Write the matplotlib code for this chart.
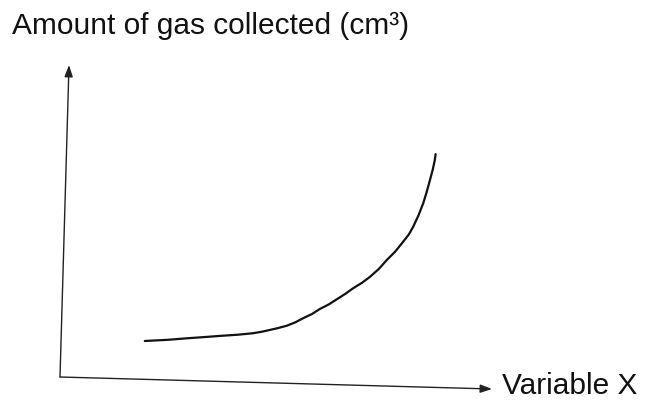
import numpy as np
import matplotlib
matplotlib.use("Agg")
import matplotlib.pyplot as plt

plt.rcParams['font.family'] = ['Liberation Sans', 'DejaVu Sans']

# curve (arbitrary units)
x_vals = [2.12, 2.7, 3.17, 3.6, 4.0, 4.45, 4.83, 5.05, 5.25, 5.45, 5.67,
          5.88, 6.08, 6.3, 6.5, 6.72, 6.92, 7.13, 7.33, 7.55, 7.75, 7.97,
          8.17, 8.38, 8.58, 8.72, 8.83, 8.96, 9.08, 9.17, 9.25, 9.32, 9.37,
          9.39]
y_vals = [1.2, 1.24, 1.29, 1.33, 1.37, 1.41, 1.46, 1.51, 1.57, 1.63, 1.71,
          1.82, 1.96, 2.1, 2.27, 2.42, 2.59, 2.77, 2.96, 3.14, 3.34, 3.6,
          3.9, 4.18, 4.51, 4.75, 5.01, 5.38, 5.79, 6.18, 6.57, 6.92, 7.23,
          7.43]

y_label = "Amount of gas collected (cm³)"
x_label = "Variable X"

# hand-drawn axes ends
y_axis_top = (0.225, 10.4)
x_axis_end = (10.8, -0.4)

fig = plt.figure(figsize=(6.47, 4.01), dpi=100)
ax = fig.add_axes([0, 0, 1, 1])
# 1 unit = 40 px in x, 30 px in y, origin at pixel (60, 377)
ax.set_xlim(-60 / 40, (647 - 60) / 40)
ax.set_ylim(-(401 - 377) / 30, 377 / 30)
ax.axis('off')

ax.plot(x_vals, y_vals, color='#111111', lw=1.6, solid_capstyle='round',
        solid_joinstyle='round')

arrow = dict(arrowstyle='-|>,head_length=0.7,head_width=0.25', color='#222222',
             lw=1.0, shrinkA=0, shrinkB=0)
ax.annotate('', xy=y_axis_top, xytext=(0, 0), arrowprops=arrow)
ax.annotate('', xy=x_axis_end, xytext=(0, 0), arrowprops=arrow)

ax.text(x_axis_end[0] + 0.25, x_axis_end[1] + 0.1, x_label, fontsize=21.5,
        ha='left', va='center', color='#111111')
fig.text(12 / 647, 1 - 12 / 401, y_label, fontsize=21.5, ha='left', va='top',
         color='#111111')

fig.savefig('out.png', dpi=100)
